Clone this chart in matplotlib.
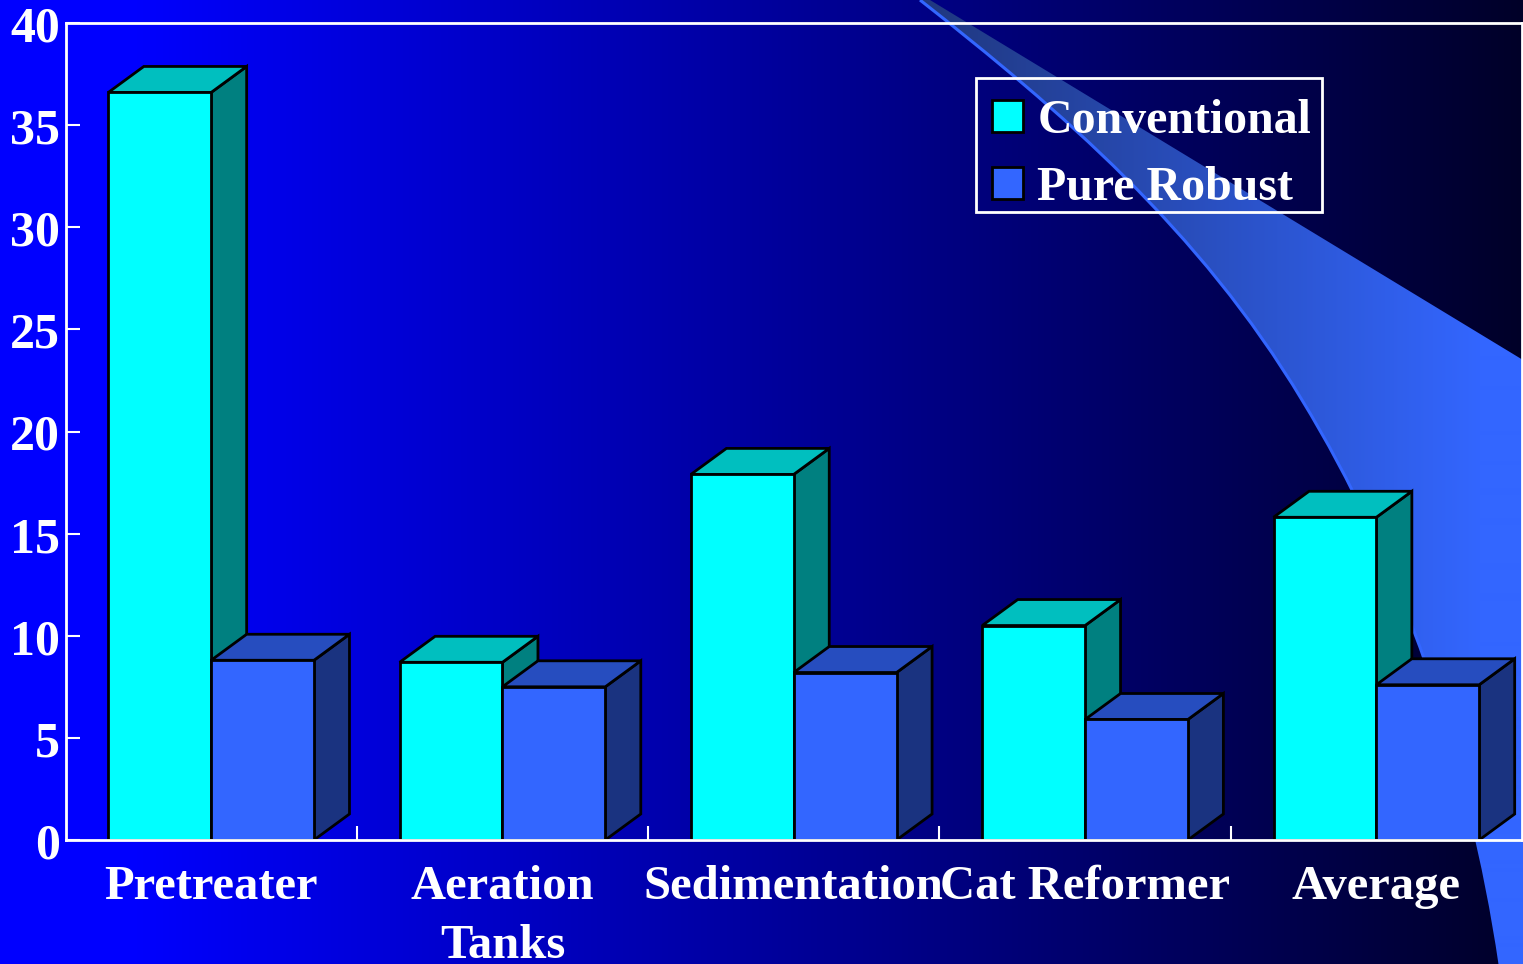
import numpy as np
import matplotlib
matplotlib.use('Agg')
import matplotlib.pyplot as plt
from matplotlib.patches import Patch, Polygon, PathPatch, Rectangle
from matplotlib.path import Path
from matplotlib.transforms import ScaledTranslation

categories = ['Pretreater', 'Aeration\nTanks', 'Sedimentation', 'Cat Reformer', 'Average']
conventional = [36.6, 8.7, 17.9, 10.5, 15.8]
pure_robust = [8.8, 7.5, 8.2, 5.9, 7.6]
y_ticks = [0, 5, 10, 15, 20, 25, 30, 35, 40]

W, H = 1523, 964
plt.rcParams['font.family'] = ['Liberation Serif', 'DejaVu Serif']
plt.rcParams['font.weight'] = 'bold'

fig = plt.figure(figsize=(W / 100, H / 100), dpi=100)

# background gradient + swoosh, in pixel coords
bg = fig.add_axes([0, 0, 1, 1], zorder=-1)
bg.set_xlim(0, W)
bg.set_ylim(H, 0)
bg.axis('off')
px = np.arange(W)
blue = np.interp(px, [0, 130, W], [255, 255, 40]) / 255
grad = np.zeros((1, W, 3))
grad[..., 2] = blue
bg.imshow(grad, extent=(0, W, H, 0), aspect='auto', interpolation='bilinear')

verts = [(920, 0), (1060, 110), (1200, 230), (1302, 400),
         (1400, 560), (1470, 760), (1500, 964),
         (W, 964), (W, 360), (930, 0), (920, 0)]
codes = [Path.MOVETO, Path.CURVE4, Path.CURVE4, Path.CURVE4,
         Path.CURVE4, Path.CURVE4, Path.CURVE4,
         Path.LINETO, Path.LINETO, Path.LINETO, Path.CLOSEPOLY]
swoosh = Path(verts, codes)
fill = np.zeros((1, W, 3))
fill[..., 0] = np.interp(px, [930, 1480], [0x20, 0x33]) / 255
fill[..., 1] = np.interp(px, [930, 1480], [0x38, 0x66]) / 255
fill[..., 2] = np.interp(px, [930, 1480], [0x80, 0xff]) / 255
im = bg.imshow(fill, extent=(0, W, H, 0), aspect='auto', interpolation='bilinear')
im.set_clip_path(PathPatch(swoosh, transform=bg.transData))
edge = Path(verts[:7], codes[:7])
bg.add_patch(PathPatch(edge, fc='none', ec='#3366ff', lw=2.2))

# chart axes
left, right, top, bottom = 65.5, 1522, 23, 840
ax = fig.add_axes([left / W, 1 - bottom / H, (right - left) / W, (bottom - top) / H])
ax.patch.set_alpha(0)
ax.set_xlim(-0.5, 4.5)
ax.set_ylim(0, 40)

x = np.arange(len(categories))
bar_w = 0.353
dx = 35.5 / 291.3
dy = 26 / 817 * 40


def bar3d(xl, val, front, side, topc, zorder):
    xr = xl + bar_w
    ax.bar(xl, val, bar_w, align='edge', color=front, edgecolor='black', lw=2, zorder=zorder + 1)
    ax.add_patch(Polygon([(xr, 0), (xr + dx, dy), (xr + dx, val + dy), (xr, val)],
                         fc=side, ec='black', lw=2, zorder=zorder))
    ax.add_patch(Polygon([(xl, val), (xl + dx, val + dy), (xr + dx, val + dy), (xr, val)],
                         fc=topc, ec='black', lw=2, zorder=zorder))


for i in x:
    bar3d(i - bar_w, conventional[i], '#00ffff', '#008080', '#00bfbf', 3 + 4 * i)
    bar3d(i, pure_robust[i], '#3366ff', '#1a3380', '#264dbf', 5 + 4 * i)

for s in ax.spines.values():
    s.set_color('white')
    s.set_linewidth(2)
    s.set_zorder(40)

ax.set_yticks(y_ticks)
ax.set_yticklabels([str(v) for v in y_ticks])
ax.tick_params(axis='y', direction='in', length=10, width=1.5, color='white',
               labelcolor='white', labelsize=36, pad=4)
shift = ScaledTranslation(0, -1 / 100, fig.dpi_scale_trans)
for lab in ax.get_yticklabels():
    lab.set_transform(lab.get_transform() + shift)

ax.set_xticks(x)
ax.set_xticklabels(categories, linespacing=1.45)
ax.tick_params(axis='x', which='major', length=0, labelcolor='white', labelsize=35, pad=18)
ax.set_xticks(x[:-1] + 0.5, minor=True)
ax.tick_params(axis='x', which='minor', direction='in', length=10, width=1.5, color='white')

# legend box drawn by hand, its padding is not even top and bottom
handles = [Patch(fc='#00ffff', ec='black', lw=2), Patch(fc='#3366ff', ec='black', lw=2)]
leg = ax.legend(handles, ['Conventional', 'Pure Robust'], loc='upper left',
                bbox_to_anchor=((976 - left) / (right - left), 1 - (83 - top) / (bottom - top)),
                borderaxespad=0, fontsize=34.5, frameon=False,
                handlelength=0.65, handleheight=0.65, handletextpad=0.3,
                labelspacing=0.475, borderpad=0.33)
leg.set_zorder(50)
for txt in leg.get_texts():
    txt.set_color('white')
fig.add_artist(Rectangle((976 / W, 1 - 212 / H), 346 / W, 134 / H, transform=fig.transFigure,
                         fill=False, ec='white', lw=2))

fig.savefig('out.png', dpi=100, facecolor='#0000ff')
